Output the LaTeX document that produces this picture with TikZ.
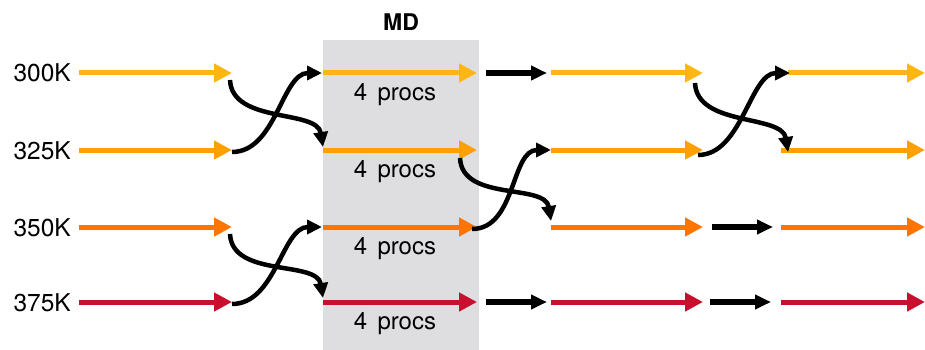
\documentclass[tikz,border=0pt]{standalone}
\usepackage{fontspec}
\setmainfont{TeX Gyre Heros}
\usetikzlibrary{arrows.meta}
\definecolor{tA}{RGB}{255,182,18}
\definecolor{tB}{RGB}{255,160,0}
\definecolor{tC}{RGB}{255,117,0}
\definecolor{tD}{RGB}{200,16,46}
\definecolor{mdgray}{RGB}{222,222,224}
\tikzset{
  flow/.style={line width=5pt,-{Triangle[length=18pt,width=18pt]}},
  hop/.style={line width=5.5pt,black,-{Triangle[length=16pt,width=14pt]}},
  swapline/.style={line width=4.5pt,black,-{Triangle[length=15pt,width=14pt]}},
  templabel/.style={anchor=base east,font=\fontsize{24.5}{28}\selectfont,inner sep=0pt},
  procs/.style={anchor=base,font=\fontsize{24}{28}\selectfont,inner sep=0pt},
}
\begin{document}
\begin{tikzpicture}[x=1pt,y=-1pt]
\useasboundingbox (0,0) rectangle (925,350);
% MD panel
\fill[mdgray] (323,40) rectangle (479,350);
\node[font=\bfseries\fontsize{23}{26}\selectfont,inner sep=0pt] (md) at (401,22) {MD};

% anchor points of every row
\foreach \r/\y in {1/73,2/150,3/227,4/302}{
  \coordinate (s1-\r) at (79,\y);  \coordinate (e1-\r) at (232,\y);
  \coordinate (s2-\r) at (323,\y); \coordinate (e2-\r) at (477,\y);
  \coordinate (s3-\r) at (551,\y); \coordinate (e3-\r) at (703,\y);
  \coordinate (s4-\r) at (781,\y); \coordinate (e4-\r) at (925,\y);
}
\coordinate (s4-1) at (788,73);

% temperature labels
\node[templabel] (l1) at (71,82)  {300K};
\node[templabel] (l2) at (71,159) {325K};
\node[templabel] (l3) at (71,236) {350K};
\node[templabel] (l4) at (71,311) {375K};

% replica trajectories
\foreach \c in {1,2,3,4}{
  \draw[flow,tA] (s\c-1) -- (e\c-1);
  \draw[flow,tB] (s\c-2) -- (e\c-2);
  \draw[flow,tC] (s\c-3) -- (e\c-3);
  \draw[flow,tD] (s\c-4) -- (e\c-4);
}

% processor counts
\foreach \r/\y in {1/100,2/177,3/254,4/329}{
  \node[procs] (p\r) at (395,\y) {4\hspace{0.15em} procs};
}

% straight continuations
\coordinate (h1a) at (486,73);  \coordinate (h1b) at (547,73);
\coordinate (h4a) at (486,302); \coordinate (h4b) at (547,302);
\coordinate (h3c) at (712,227); \coordinate (h3d) at (773,227);
\coordinate (h4c) at (710,302); \coordinate (h4d) at (771,302);
\draw[hop] (h1a) -- (h1b);
\draw[hop] (h4a) -- (h4b);
\draw[hop] (h3c) -- (h3d);
\draw[hop] (h4c) -- (h4d);

% exchange moves
\coordinate (xa0) at (230,80);  \coordinate (xa1) at (323,147);
\coordinate (xb0) at (232,152); \coordinate (xb1) at (322,73);
\coordinate (xc0) at (230,234); \coordinate (xc1) at (323,298);
\coordinate (xd0) at (232,304); \coordinate (xd1) at (322,227);
\coordinate (xe0) at (460,158); \coordinate (xe1) at (551,221);
\coordinate (xf0) at (472,229); \coordinate (xf1) at (551,150);
\coordinate (xg0) at (695,83);  \coordinate (xg1) at (788,152);
\coordinate (xh0) at (698,155); \coordinate (xh1) at (790,73);

\foreach \d in {a,c,e,g}{
  \draw[swapline] (x\d0) .. controls +(2,44) and +(-6,-38) .. (x\d1);
}
\foreach \u in {b,d,f,h}{
  \draw[swapline] (x\u0) .. controls +(44,0) and +(-40,0) .. (x\u1);
}
\end{tikzpicture}
\end{document}
